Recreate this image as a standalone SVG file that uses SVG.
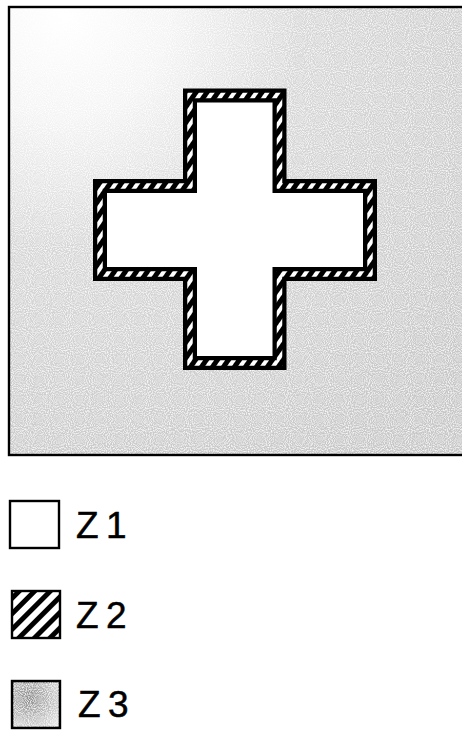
<svg xmlns="http://www.w3.org/2000/svg" width="462" height="731" viewBox="0 0 462 731">
<defs>
<style>
.lbl{font-family:"Liberation Sans",Arial,sans-serif;font-size:37px;fill:#000;stroke:#000;stroke-width:0.5;word-spacing:-3px}
.box{stroke:#000;stroke-width:2.4}
</style>
<radialGradient id="bg" cx="0.12" cy="0.02" r="1.15">
<stop offset="0" stop-color="#ffffff"/>
<stop offset="0.2" stop-color="#f4f4f4"/>
<stop offset="0.45" stop-color="#d6d6d6"/>
<stop offset="1" stop-color="#c6c6c6"/>
</radialGradient>
<filter id="stip" x="0" y="0" width="1" height="1">
<feTurbulence type="fractalNoise" baseFrequency="0.95" numOctaves="1" seed="3" result="n"/>
<feColorMatrix in="n" type="matrix" values="0 0 0 0 1  0 0 0 0 1  0 0 0 0 1  0 0 0 -2.2 1.35" result="w"/>
<feComposite in="w" in2="SourceGraphic" operator="in" result="wm"/>
<feMerge><feMergeNode in="SourceGraphic"/><feMergeNode in="wm"/></feMerge>
</filter>
<pattern id="hatchBand" width="9" height="9" patternUnits="userSpaceOnUse" patternTransform="rotate(35)">
<rect width="9" height="9" fill="#000"/>
<rect x="0" y="0" width="4" height="9" fill="#fff"/>
</pattern>
<pattern id="hatchLeg" width="11" height="11" patternUnits="userSpaceOnUse" patternTransform="rotate(45)">
<rect width="11" height="11" fill="#fff"/>
<rect x="0" y="0" width="5" height="11" fill="#000"/>
</pattern>
<radialGradient id="legbg" cx="0.35" cy="0.35" r="0.8">
<stop offset="0" stop-color="#8a8a8a"/>
<stop offset="1" stop-color="#e2e2e2"/>
</radialGradient>
</defs>

<g id="field">
<rect x="9" y="7" width="460" height="448" fill="url(#bg)" filter="url(#stip)"/>
<rect x="9" y="7" width="460" height="448" fill="none" stroke="#000" stroke-width="2.4"/>
</g>

<g id="cross">
<path d="M190,95.5 H279.5 V186 H370 V274 H279.5 V363 H190 V274 H100 V186 H190 Z" fill="#fff" stroke="#000" stroke-width="14" stroke-linejoin="miter"/>
<path d="M190,95.5 H279.5 V186 H370 V274 H279.5 V363 H190 V274 H100 V186 H190 Z" fill="none" stroke="url(#hatchBand)" stroke-width="5.5" stroke-linejoin="miter"/>
</g>

<g id="legend-z1">
<rect class="box" x="10" y="501" width="49" height="47" fill="#fff"/>
<text class="lbl" x="76" y="538">Z 1</text>
</g>
<g id="legend-z2">
<rect class="box" x="12" y="591" width="48" height="47" fill="url(#hatchLeg)"/>
<text class="lbl" x="76" y="628">Z 2</text>
</g>
<g id="legend-z3">
<rect class="box" x="12" y="681" width="48" height="47" fill="url(#legbg)" filter="url(#stip)"/>
<rect class="box" x="12" y="681" width="48" height="47" fill="none"/>
<text class="lbl" x="78" y="717">Z 3</text>
</g>
</svg>
